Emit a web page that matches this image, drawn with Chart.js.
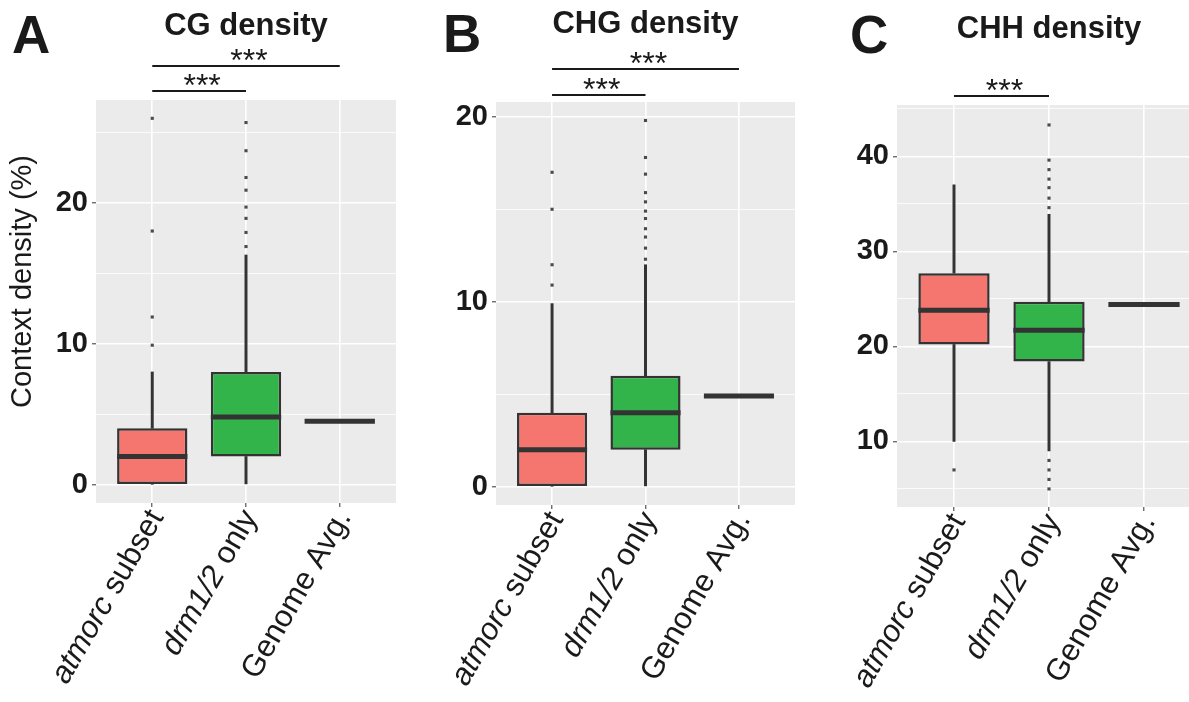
<!DOCTYPE html>
<html>
<head>
<meta charset="utf-8">
<script src="https://cdn.jsdelivr.net/npm/chart.js@4.4.0/dist/chart.umd.min.js"></script>
<style>
  html, body { margin: 0; padding: 0; background: #fff; overflow: hidden; width: 1189px; height: 702px; position: relative; }
  .panel { position: absolute; top: 0; }
</style>
</head>
<body>
<div class="panel" style="left:0"><canvas id="cg" width="400" height="702"></canvas></div>
<div class="panel" style="left:400px"><canvas id="chg" width="400" height="702"></canvas></div>
<div class="panel" style="left:800px"><canvas id="chh" width="410" height="702"></canvas></div>
<script>
const FONT = '"Liberation Sans", Arial, Helvetica, sans-serif';

// x categories: italic part + plain part
const categories = ['atmorc subset', 'drm1/2 only', 'Genome Avg.'];
const labelItalic = ['atmorc', 'drm1/2', ''];
const labelPlain = [' subset', ' only', 'Genome Avg.'];

// CG density (panel A)
const cgLower = [0, 0];
const cgQ1 = [0, 2.0];
const cgMedian = [2.0, 4.8];
const cgQ3 = [4.0, 8.0];
const cgUpper = [8.0, 16.3];
const cgGenome = 4.5;
const cgOutAtmorc = [9.9, 11.9, 18.0, 26.0];
const cgOutDrm = [16.9, 17.9, 18.9, 19.7, 20.9, 21.8, 23.7, 25.7];
const cgTicks = [0, 5, 10, 15, 20, 25];
const cgLimits = [-1.3, 27.3];
const cgPairs = [[0, 1], [0, 2]];

// CHG density (panel B)
const chgLower = [0, 0];
const chgQ1 = [0, 2.0];
const chgMedian = [2.0, 4.0];
const chgQ3 = [4.0, 6.0];
const chgUpper = [9.9, 12.0];
const chgGenome = 4.9;
const chgOutAtmorc = [10.9, 12.0, 15.0, 17.0];
const chgOutDrm = [12.3, 12.9, 13.5, 13.95, 14.5, 14.9, 15.4, 15.9, 16.9, 17.8, 19.8];
const chgTicks = [0, 5, 10, 15, 20];
const chgLimits = [-0.99, 20.8];
const chgPairs = [[0, 1], [0, 2]];

// CHH density (panel C)
const chhLower = [10.0, 9.0];
const chhQ1 = [20.2, 18.4];
const chhMedian = [23.8, 21.7];
const chhQ3 = [27.7, 24.7];
const chhUpper = [37.0, 33.9];
const chhGenome = 24.4;
const chhOutAtmorc = [7.0];
const chhOutDrm = [5.0, 6.0, 7.0, 8.0, 34.6, 35.6, 36.7, 37.6, 38.6, 39.6, 43.3];
const chhTicks = [5, 10, 15, 20, 25, 30, 35, 40, 45];
const chhLimits = [3.1, 45.4];
const chhPairs = [[0, 1]];

const boxFill = ['#F4766E', '#32B44B'];
const INK = '#333333';

// background + all the text around the panel
const decor = {
  id: 'decor',
  beforeDraw(chart, args, o) {
    const { ctx, chartArea: a } = chart;
    ctx.save();
    ctx.fillStyle = '#EBEBEB';
    ctx.fillRect(a.left, a.top, a.right - a.left, a.bottom - a.top);
    ctx.restore();
  },
  afterDraw(chart, args, o) {
    const { ctx, chartArea: a } = chart;
    const x = chart.scales.x;
    ctx.save();
    ctx.fillStyle = '#1a1a1a';

    // panel letter and title
    ctx.textBaseline = 'alphabetic';
    ctx.textAlign = 'left';
    ctx.font = 'bold 53px ' + FONT;
    ctx.fillText(o.letter, o.letterX, o.letterY);
    ctx.textAlign = 'center';
    ctx.font = 'bold 31px ' + FONT;
    ctx.fillText(o.title, (a.left + a.right) / 2, o.titleY);

    // significance brackets
    o.pairs.forEach((p, k) => {
      const x0 = x.getPixelForValue(p[0]);
      const x1 = x.getPixelForValue(p[1]);
      const yl = a.top - o.rise[k];
      ctx.strokeStyle = '#1a1a1a';
      ctx.lineWidth = 2.2;
      ctx.beginPath();
      ctx.moveTo(x0, yl);
      ctx.lineTo(x1, yl);
      ctx.stroke();
      ctx.font = '32px ' + FONT;
      ctx.textAlign = 'center';
      ctx.fillText('***', (x0 + x1) / 2 + 3, yl + 5);
    });

    // rotated category labels
    categories.forEach((c, i) => {
      const px = x.getPixelForValue(i);
      ctx.save();
      ctx.translate(px + o.labDx, a.bottom + o.labDy);
      ctx.rotate(-Math.PI / 3);
      ctx.textAlign = 'left';
      ctx.textBaseline = 'alphabetic';
      ctx.font = '31px ' + FONT;
      const wPlain = ctx.measureText(labelPlain[i]).width;
      ctx.font = 'italic 31px ' + FONT;
      const wIt = labelItalic[i] ? ctx.measureText(labelItalic[i]).width : 0;
      if (labelItalic[i]) ctx.fillText(labelItalic[i], -(wPlain + wIt), 0);
      ctx.font = '31px ' + FONT;
      ctx.fillText(labelPlain[i], -wPlain, 0);
      ctx.restore();
    });

    // y axis title (panel A only)
    if (o.yTitle) {
      ctx.save();
      ctx.translate(o.yTitleX, (a.top + a.bottom) / 2 + o.yTitleDy);
      ctx.rotate(-Math.PI / 2);
      ctx.textAlign = 'center';
      ctx.textBaseline = 'middle';
      ctx.font = '29px ' + FONT;
      ctx.fillText(o.yTitle, 0, 0);
      ctx.restore();
    }
    ctx.restore();
  }
};

function makePanel(id, d, look) {
  const halfBox = (c) => {
    const s = c.chart.scales.x;
    return s.getPixelForValue(0.375) - s.getPixelForValue(0);
  };
  const boxData = d.q1.map((v, i) => ({ x: i, y: [v, d.q3[i]] }));
  const upperData = d.q3.map((v, i) => ({ x: i, y: [v, d.hi[i]] }));
  const lowerData = d.lo.map((v, i) => ({ x: i, y: [v, d.q1[i]] }));
  const medianData = d.med.map((v, i) => ({ x: i, y: v })).concat([{ x: 2, y: d.genome }]);
  const outData = d.outA.map(v => ({ x: 0, y: v })).concat(d.outD.map(v => ({ x: 1, y: v })));

  return new Chart(document.getElementById(id), {
    type: 'bar',
    data: {
      datasets: [
        {
          type: 'scatter', order: 0, data: outData,
          pointStyle: 'rect', pointRadius: 2.2, pointBorderWidth: 0,
          pointBackgroundColor: 'rgba(30,30,30,0.8)'
        },
        {
          type: 'scatter', order: 1, data: medianData,
          pointStyle: 'line', pointRadius: halfBox, pointBorderWidth: 5,
          pointBorderColor: INK
        },
        {
          order: 2, data: boxData, grouped: false,
          barPercentage: 0.75, categoryPercentage: 1,
          backgroundColor: boxFill, borderColor: INK, borderWidth: 2.5, borderSkipped: false
        },
        {
          order: 3, data: upperData, grouped: false,
          barThickness: 2.3, backgroundColor: INK, borderWidth: 0
        },
        {
          order: 4, data: lowerData, grouped: false,
          barThickness: 2.3, backgroundColor: INK, borderWidth: 0
        }
      ]
    },
    options: {
      responsive: false,
      animation: false,
      events: [],
      layout: { padding: { left: 0, top: look.top, right: look.right, bottom: 0 } },
      plugins: {
        legend: { display: false },
        tooltip: { enabled: false },
        decor: look
      },
      scales: {
        x: {
          type: 'linear', min: -0.6, max: 2.6, offset: false,
          afterBuildTicks: s => { s.ticks = [0, 1, 2].map(v => ({ value: v })); },
          afterFit: s => { s.height = 702 - look.bottom; },
          ticks: { display: false },
          border: { display: false },
          grid: { offset: false, color: '#ffffff', lineWidth: 1.6, tickColor: INK, tickWidth: 1, tickLength: 4 }
        },
        y: {
          type: 'linear', min: d.limits[0], max: d.limits[1],
          afterBuildTicks: s => { s.ticks = d.ticks.map(v => ({ value: v })); },
          afterFit: s => { s.width = look.left; },
          border: { display: false },
          ticks: {
            padding: 4, color: '#1a1a1a',
            font: { family: FONT, size: 29, weight: 'bold' },
            callback: v => (v % 10 === 0 ? String(v) : '')
          },
          grid: {
            color: '#ffffff',
            lineWidth: c => (c.tick && c.tick.value % 10 === 0 ? 1.6 : 0.8),
            tickColor: c => (c.tick && c.tick.value % 10 === 0 ? INK : 'rgba(0,0,0,0)'),
            tickWidth: 1, tickLength: 4
          }
        }
      }
    },
    plugins: [decor]
  });
}

makePanel('cg', {
  lo: cgLower, q1: cgQ1, med: cgMedian, q3: cgQ3, hi: cgUpper, genome: cgGenome,
  outA: cgOutAtmorc, outD: cgOutDrm, ticks: cgTicks, limits: cgLimits
}, {
  left: 96, right: 0, top: 100, bottom: 503,
  letter: 'A', letterX: 12, letterY: 53, title: 'CG density', titleY: 35,
  pairs: cgPairs, rise: [9, 34], labDx: 12, labDy: 14,
  yTitle: 'Context density (%)', yTitleX: 23, yTitleDy: -20
});

makePanel('chg', {
  lo: chgLower, q1: chgQ1, med: chgMedian, q3: chgQ3, hi: chgUpper, genome: chgGenome,
  outA: chgOutAtmorc, outD: chgOutDrm, ticks: chgTicks, limits: chgLimits
}, {
  left: 96, right: 5, top: 102, bottom: 505,
  letter: 'B', letterX: 43, letterY: 52, title: 'CHG density', titleY: 33,
  pairs: chgPairs, rise: [7, 33], labDx: 12, labDy: 14
});

makePanel('chh', {
  lo: chhLower, q1: chhQ1, med: chhMedian, q3: chhQ3, hi: chhUpper, genome: chhGenome,
  outA: chhOutAtmorc, outD: chhOutDrm, ticks: chhTicks, limits: chhLimits
}, {
  left: 97, right: 9, top: 105, bottom: 507,
  letter: 'C', letterX: 50, letterY: 53, title: 'CHH density', titleY: 38,
  pairs: chhPairs, rise: [9], labDx: 12, labDy: 14
});
</script>
</body>
</html>
